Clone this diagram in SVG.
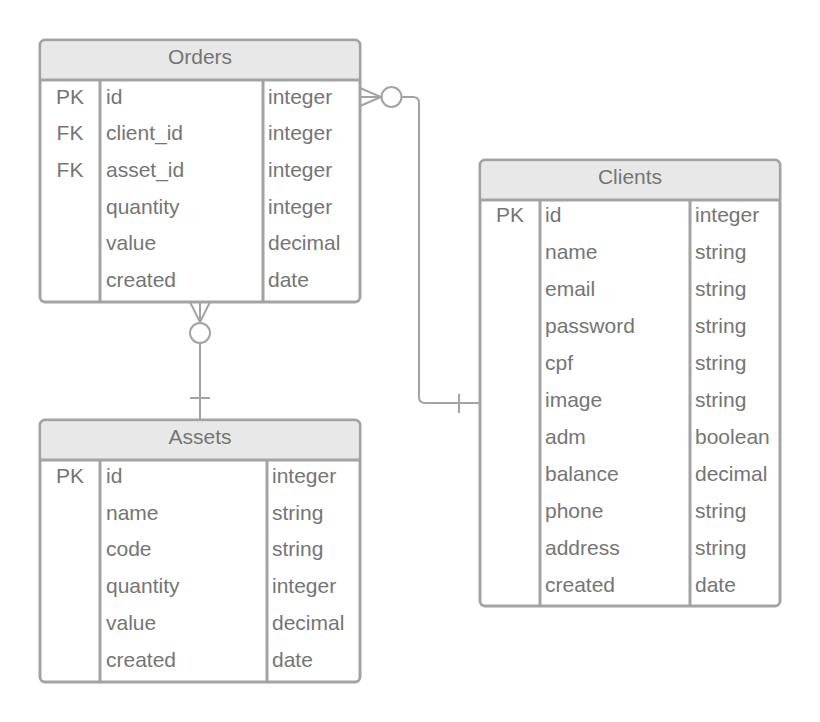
<svg xmlns="http://www.w3.org/2000/svg" width="820" height="722" viewBox="0 0 820 722">
<style>
.frame{fill:#fff;stroke:#a3a3a3;stroke-width:3}
.hdr{fill:#e8e8e8}
.ln{stroke:#a3a3a3;stroke-width:3;fill:none}
.cn{stroke:#a3a3a3;stroke-width:2;fill:none}
text{font-family:"Liberation Sans",Arial,sans-serif;font-size:21px;fill:#757575}
.h{text-anchor:middle}
.k{text-anchor:middle}
</style>
<rect width="820" height="722" fill="#fff"/>
<g id="connectors">
<path class="cn" d="M360,97 H381 M360,88 L381,97 L360,106"/>
<circle class="cn" cx="391.5" cy="97" r="10" fill="#fff"/>
<path class="cn" d="M401.5,97 H413 Q419,97 419,103 V397 Q419,403 425,403 H480 M459,394 V413"/>
<path class="cn" d="M200,302 V322 M190,302 L200,322 L210,302"/>
<circle class="cn" cx="200" cy="333" r="10" fill="#fff"/>
<path class="cn" d="M200,343 V420 M190,398 H210"/>
</g>
<g id="orders">
<rect class="frame" x="40" y="40" width="320" height="262" rx="5"/>
<path class="hdr" d="M45,41.5 H355 Q358.5,41.5 358.5,45 V80 H41.5 V45 Q41.5,41.5 45,41.5 Z"/>
<path class="ln" d="M40,80 H360 M100,80 V302 M263,80 V302"/>
<text class="h" x="200" y="64">Orders</text>
<text class="k" x="70" y="104">PK</text>
<text class="k" x="70" y="140">FK</text>
<text class="k" x="70" y="177">FK</text>
<text x="106" y="104">id</text>
<text x="106" y="140">client_id</text>
<text x="106" y="177">asset_id</text>
<text x="106" y="214">quantity</text>
<text x="106" y="250">value</text>
<text x="106" y="287">created</text>
<text x="268" y="104">integer</text>
<text x="268" y="140">integer</text>
<text x="268" y="177">integer</text>
<text x="268" y="214">integer</text>
<text x="268" y="250">decimal</text>
<text x="268" y="287">date</text>
</g>
<g id="clients">
<rect class="frame" x="480" y="160" width="300" height="446" rx="5"/>
<path class="hdr" d="M485,161.5 H775 Q778.5,161.5 778.5,165 V200 H481.5 V165 Q481.5,161.5 485,161.5 Z"/>
<path class="ln" d="M480,200 H780 M540,200 V606 M690,200 V606"/>
<text class="h" x="630" y="184">Clients</text>
<text class="k" x="510" y="222">PK</text>
<text x="545" y="222">id</text>
<text x="545" y="259">name</text>
<text x="545" y="296">email</text>
<text x="545" y="333">password</text>
<text x="545" y="370">cpf</text>
<text x="545" y="407">image</text>
<text x="545" y="444">adm</text>
<text x="545" y="481">balance</text>
<text x="545" y="518">phone</text>
<text x="545" y="555">address</text>
<text x="545" y="592">created</text>
<text x="695" y="222">integer</text>
<text x="695" y="259">string</text>
<text x="695" y="296">string</text>
<text x="695" y="333">string</text>
<text x="695" y="370">string</text>
<text x="695" y="407">string</text>
<text x="695" y="444">boolean</text>
<text x="695" y="481">decimal</text>
<text x="695" y="518">string</text>
<text x="695" y="555">string</text>
<text x="695" y="592">date</text>
</g>
<g id="assets">
<rect class="frame" x="40" y="420" width="320" height="262" rx="5"/>
<path class="hdr" d="M45,421.5 H355 Q358.5,421.5 358.5,425 V460 H41.5 V425 Q41.5,421.5 45,421.5 Z"/>
<path class="ln" d="M40,460 H360 M100,460 V682 M267,460 V682"/>
<text class="h" x="200" y="444">Assets</text>
<text class="k" x="70" y="483">PK</text>
<text x="106" y="483">id</text>
<text x="106" y="520">name</text>
<text x="106" y="556">code</text>
<text x="106" y="593">quantity</text>
<text x="106" y="630">value</text>
<text x="106" y="667">created</text>
<text x="272" y="483">integer</text>
<text x="272" y="520">string</text>
<text x="272" y="556">string</text>
<text x="272" y="593">integer</text>
<text x="272" y="630">decimal</text>
<text x="272" y="667">date</text>
</g>
</svg>
